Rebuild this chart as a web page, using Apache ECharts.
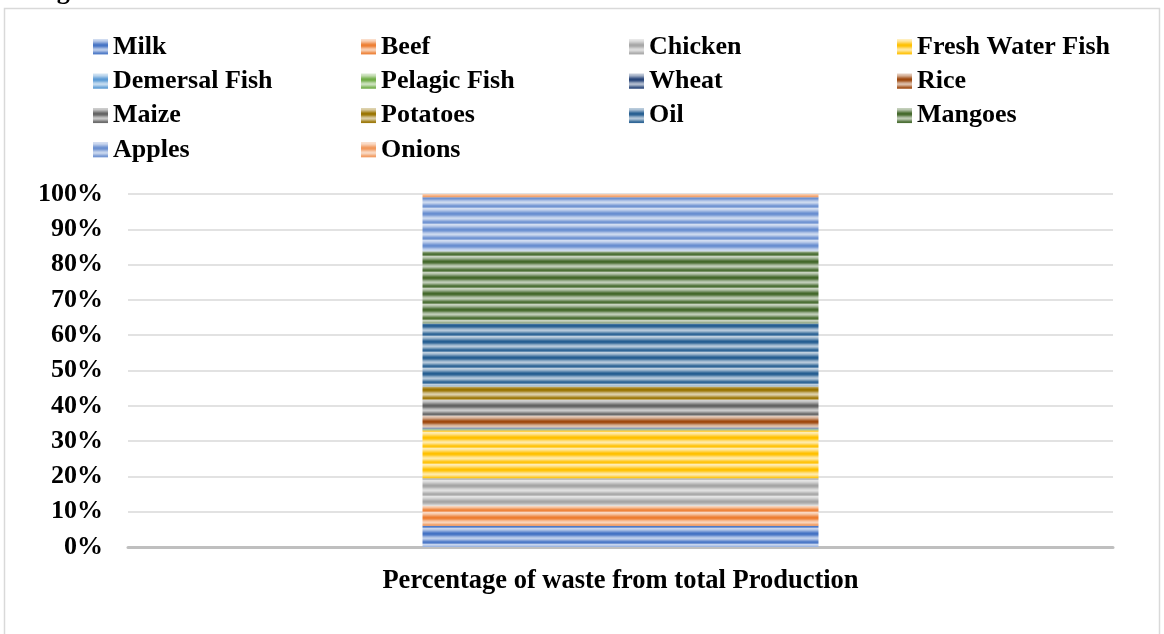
<!DOCTYPE html>
<html>
<head>
<meta charset="utf-8">
<script src="https://cdn.jsdelivr.net/npm/echarts@6/dist/echarts.min.js"></script>
<style>
  html, body { margin: 0; padding: 0; background: #ffffff; }
  #chart { width: 1164px; height: 634px; }
</style>
</head>
<body>
<div id="chart"></div>
<script>
// Share of waste in total production, per commodity (percent of the stacked column)
const category = ['Percentage of waste from total Production'];
const items = ['Milk', 'Beef', 'Chicken', 'Fresh Water Fish', 'Demersal Fish', 'Pelagic Fish',
               'Wheat', 'Rice', 'Maize', 'Potatoes', 'Oil', 'Mangoes', 'Apples', 'Onions'];
const shares = [6.0, 5.7, 7.8, 13.6, 0.2, 0.2, 0.4, 3.3, 4.5, 3.8, 17.8, 20.5, 15.3, 0.9];
const baseColors = ['#4472C4', '#ED7D31', '#A5A5A5', '#FFC000', '#5B9BD5', '#70AD47',
                    '#264478', '#9E480E', '#636363', '#997300', '#255E91', '#43682B',
                    '#698ED0', '#F1975A'];
const yTicks = [0, 10, 20, 30, 40, 50, 60, 70, 80, 90, 100];

// Legend columns
const legendCols = [
  ['Milk', 'Demersal Fish', 'Maize', 'Apples'],
  ['Beef', 'Pelagic Fish', 'Potatoes', 'Onions'],
  ['Chicken', 'Wheat', 'Oil'],
  ['Fresh Water Fish', 'Rice', 'Mangoes']
];
const legendLeft = [93, 361, 629, 897];

const FONT = '"Times New Roman", "Liberation Serif", serif';

function hexToRgb(h) {
  const n = parseInt(h.slice(1), 16);
  return [(n >> 16) & 255, (n >> 8) & 255, n & 255];
}
function shade(h, t) {
  const [r, g, b] = hexToRgb(h);
  const f = (v) => t >= 0 ? Math.round(v + (255 - v) * t) : Math.round(v * (1 + t));
  return 'rgb(' + f(r) + ',' + f(g) + ',' + f(b) + ')';
}
// Horizontal striped texture fill in the series colour
const stripeTints = [0.7, 0.62, 0.48, 0.3, 0.12, 0, 0.04, 0.2, 0.42, 0.58, 0.66, 0.52, 0.32, 0.12, 0.05, 0.28];
function stripes(hex) {
  const c = document.createElement('canvas');
  c.width = 4; c.height = stripeTints.length;
  const ctx = c.getContext('2d');
  stripeTints.forEach((t, i) => {
    ctx.fillStyle = shade(hex, t);
    ctx.fillRect(0, i, 4, 1);
  });
  return { image: c, repeat: 'repeat' };
}

const chart = echarts.init(document.getElementById('chart'), null, { renderer: 'canvas' });

const series = items.map((name, i) => ({
  name: name,
  type: 'bar',
  stack: 'total',
  barWidth: '40.2%',
  data: [shares[i]],
  itemStyle: { color: stripes(baseColors[i]) },
  emphasis: { disabled: true }
}));

const legends = legendCols.map((col, k) => ({
  data: col,
  orient: 'vertical',
  left: legendLeft[k],
  top: 34,
  padding: 0,
  itemGap: 8.3,
  itemWidth: 15,
  itemHeight: 15,
  icon: 'rect',
  selectedMode: false,
  textStyle: { fontFamily: FONT, fontSize: 26, fontWeight: 'bold', color: '#000', lineHeight: 26 }
}));

chart.setOption({
  animation: false,
  backgroundColor: '#ffffff',
  title: {
    text: 'Percentage of Food Waste of Selected Commodities from Total Production',
    left: -41,
    top: -20.5,
    padding: 0,
    textStyle: { fontFamily: FONT, fontSize: 26, fontWeight: 'bold', color: '#000' }
  },
  graphic: [{
    type: 'rect',
    z: -10,
    shape: { x: 4.5, y: 8.5, width: 1155, height: 660 },
    style: { fill: 'none', stroke: '#d9d9d9', lineWidth: 1.5 }
  }],
  legend: legends,
  grid: { left: 128, right: 51, top: 194, bottom: 87 },
  xAxis: {
    type: 'category',
    data: category,
    axisTick: { show: false },
    axisLine: { lineStyle: { color: '#bfbfbf', width: 3 } },
    axisLabel: { margin: 21, fontFamily: FONT, fontSize: 26.5, fontWeight: 'bold', color: '#000' }
  },
  yAxis: {
    type: 'value',
    min: yTicks[0],
    max: yTicks[yTicks.length - 1],
    interval: yTicks[1] - yTicks[0],
    axisLine: { show: false },
    axisTick: { show: false },
    splitLine: { lineStyle: { color: '#d9d9d9', width: 1.5 } },
    axisLabel: { margin: 25, formatter: '{value}%', fontFamily: FONT, fontSize: 26, fontWeight: 'bold', color: '#000' }
  },
  series: series
});
</script>
</body>
</html>
